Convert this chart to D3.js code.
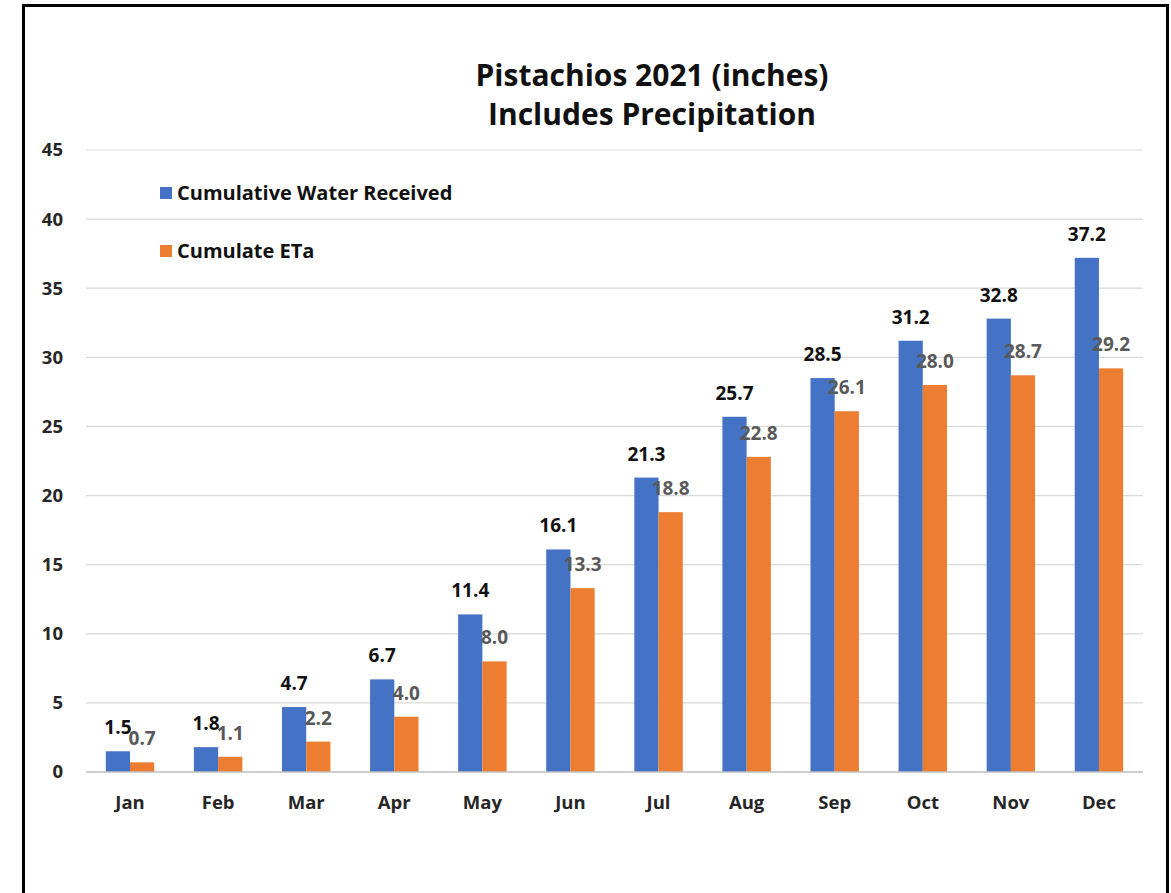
<!DOCTYPE html>
<html><head><meta charset="utf-8">
<script src="https://cdn.jsdelivr.net/npm/d3@7/dist/d3.min.js"></script>
<style>body{margin:0;background:#fff}svg{display:block}</style>
</head><body>
<script>
const months = ["Jan","Feb","Mar","Apr","May","Jun","Jul","Aug","Sep","Oct","Nov","Dec"];
const waterReceived = [1.5,1.8,4.7,6.7,11.4,16.1,21.3,25.7,28.5,31.2,32.8,37.2];
const cumulateETa = [0.7,1.1,2.2,4.0,8.0,13.3,18.8,22.8,26.1,28.0,28.7,29.2];
const yTicks = [0,5,10,15,20,25,30,35,40,45];
const seriesNames = ["Cumulative Water Received","Cumulate ETa"];
const titleLines = ["Pistachios 2021 (inches)","Includes Precipitation"];

const W=1171,H=893;
const font="'Open Sans', 'Noto Sans', sans-serif";
const svg=d3.select("body").append("svg").attr("width",W).attr("height",H);
svg.append("rect").attr("width",W).attr("height",H).attr("fill","#fff");
// frame
svg.append("rect").attr("x",23.5).attr("y",5.5).attr("width",1144).attr("height",H+10)
  .attr("fill","none").attr("stroke","#000").attr("stroke-width",3);

const m={left:86,right:1143,top:150,bottom:772};
const x=d3.scaleBand().domain(months).range([m.left,m.right]).paddingInner(0.45).paddingOuter(0.225);
const x1=d3.scaleBand().domain([0,1]).range([0,x.bandwidth()]);
const y=d3.scaleLinear().domain([0,45]).range([m.bottom,m.top]);

// grid
svg.append("g").selectAll("line").data(yTicks.filter(d=>d>0)).join("line")
  .attr("x1",m.left).attr("x2",m.right).attr("y1",d=>y(d)).attr("y2",d=>y(d))
  .attr("stroke","#d9d9d9").attr("stroke-width",1.2);

const yAxis=svg.append("g").attr("transform",`translate(${m.left},0)`)
  .call(d3.axisLeft(y).tickValues(yTicks).tickSize(0).tickPadding(23));
yAxis.select(".domain").remove();
yAxis.selectAll("text").attr("font-family",font).attr("font-weight","bold").attr("font-size",18.5).attr("fill","#262626");

const colors=["#4472C4","#ED7D31"];
const series=[waterReceived,cumulateETa];
series.forEach((vals,si)=>{
  svg.append("g").selectAll("rect").data(vals).join("rect")
    .attr("x",(d,i)=>x(months[i])+x1(si)).attr("width",x1.bandwidth())
    .attr("y",d=>y(d)).attr("height",d=>y(0)-y(d)).attr("fill",colors[si]);
});
// zero axis line
svg.append("line").attr("x1",m.left).attr("x2",m.right).attr("y1",y(0)).attr("y2",y(0))
  .attr("stroke","#bfbfbf").attr("stroke-width",1.5);

const xAxis=svg.append("g").attr("transform",`translate(0,${y(0)})`)
  .call(d3.axisBottom(x).tickSize(0).tickPadding(24));
xAxis.select(".domain").remove();
xAxis.selectAll("text").attr("font-family",font).attr("font-weight","bold").attr("font-size",18.5).attr("fill","#262626");

// labels
const labelColors=["#111","#595959"];
series.forEach((vals,si)=>{
  svg.append("g").selectAll("text").data(vals).join("text")
    .attr("x",(d,i)=>x(months[i])+x1(si)+x1.bandwidth()/2)
    .attr("y",d=>y(d)-17).attr("text-anchor","middle")
    .attr("font-family",font).attr("font-weight","bold").attr("font-size",19)
    .attr("fill",labelColors[si]).text(d=>d.toFixed(1));
});

// title
svg.append("g").selectAll("text").data(titleLines).join("text")
  .attr("x",652).attr("y",(d,i)=>86+i*39).attr("text-anchor","middle")
  .attr("font-family",font).attr("font-weight","bold").attr("font-size",30).attr("fill","#111").text(d=>d);

// legend
const lg=svg.append("g");
seriesNames.forEach((n,i)=>{
  lg.append("rect").attr("x",160).attr("y",187+i*58).attr("width",12).attr("height",12).attr("fill",colors[i]);
  lg.append("text").attr("x",177).attr("y",200+i*58).attr("font-family",font).attr("font-weight","bold")
    .attr("font-size",20).attr("fill","#111").text(n);
});
</script>
</body></html>
